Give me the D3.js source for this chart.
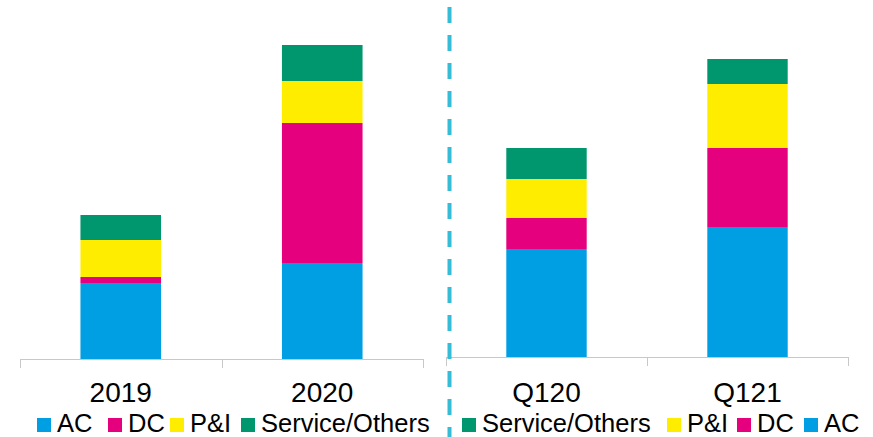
<!DOCTYPE html>
<html>
<head>
<meta charset="utf-8">
<script src="https://cdnjs.cloudflare.com/ajax/libs/d3/7.8.5/d3.min.js"></script>
<style>
  body { margin: 0; background: #fff; }
  text { font-family: "Liberation Sans", Arial, sans-serif; fill: #000; }
</style>
</head>
<body>
<div id="chart"></div>
<script>
  var w = 873,
      h = 437;

  // series order bottom -> top
  var series = ["AC", "DC", "P&I", "Service/Others"];
  var colors = ["#009fe3", "#e5007d", "#ffed00", "#00976e"];

  // yearly panel
  var yearCats = ["2019", "2020"];
  var yearAC = [76, 96],
      yearDC = [6, 140],
      yearPI = [37, 42],
      yearSvc = [25, 36];

  // quarterly panel
  var qCats = ["Q120", "Q121"];
  var qAC = [108, 130],
      qDC = [31, 79],
      qPI = [39, 64],
      qSvc = [31, 25];

  var svg = d3.select("#chart").append("svg")
      .attr("width", w)
      .attr("height", h);

  function panel(cats, vals, left, right, base, legendOrder, legendPos) {
    var x = d3.scaleBand().domain(cats).range([left, right]).paddingInner(0);
    var y = d3.scaleLinear().domain([0, base]).range([base, 0]);

    var rows = cats.map(function(c, i) {
      var r = {cat: c};
      series.forEach(function(s, k) { r[s] = vals[k][i]; });
      return r;
    });
    var stacked = d3.stack().keys(series)(rows);

    var g = svg.append("g");
    g.selectAll("g.layer").data(stacked)
      .enter().append("g")
      .attr("fill", function(d, k) { return colors[k]; })
      .selectAll("rect").data(function(d) { return d; })
      .enter().append("rect")
      .attr("x", function(d) { return x(d.data.cat) + x.bandwidth() * 0.3; })
      .attr("width", x.bandwidth() * 0.4)
      .attr("y", function(d) { return y(d[1]); })
      .attr("height", function(d) { return y(d[0]) - y(d[1]); });

    // category axis with boundary ticks
    var edges = cats.map(function(c) { return x(c); }).concat([right]);
    g.append("line")
      .attr("x1", left).attr("x2", right)
      .attr("y1", base + 0.5).attr("y2", base + 0.5)
      .attr("stroke", "#c8c8c8");
    g.selectAll("line.tick").data(edges)
      .enter().append("line")
      .attr("class", "tick")
      .attr("x1", function(d) { return Math.round(d) + 0.5; })
      .attr("x2", function(d) { return Math.round(d) + 0.5; })
      .attr("y1", base).attr("y2", base + 9)
      .attr("stroke", "#c8c8c8");
    g.selectAll("text.cat").data(cats)
      .enter().append("text")
      .attr("class", "cat")
      .attr("x", function(d) { return x(d) + x.bandwidth() / 2; })
      .attr("y", 402)
      .attr("text-anchor", "middle")
      .style("font-size", "28px")
      .text(function(d) { return d; });

    // legend
    var lg = g.selectAll("g.leg").data(legendOrder)
      .enter().append("g")
      .attr("transform", function(d, i) { return "translate(" + legendPos[i] + ",418)"; });
    lg.append("rect")
      .attr("width", 14).attr("height", 14)
      .attr("fill", function(d) { return colors[series.indexOf(d)]; });
    lg.append("text")
      .attr("x", 20).attr("y", 14)
      .style("font-size", "25.5px")
      .text(function(d) { return d; });
  }

  panel(yearCats, [yearAC, yearDC, yearPI, yearSvc], 20, 423, 359,
        ["AC", "DC", "P&I", "Service/Others"], [37, 108, 170, 241]);
  panel(qCats, [qAC, qDC, qPI, qSvc], 446, 848, 357,
        ["Service/Others", "P&I", "DC", "AC"], [462, 667, 737, 804]);

  // dashed divider
  svg.append("line")
    .attr("x1", 449.5).attr("x2", 449.5)
    .attr("y1", 7).attr("y2", h)
    .attr("stroke", "#35bcd6")
    .attr("stroke-width", 4)
    .attr("stroke-dasharray", "16,12");
</script>
</body>
</html>
